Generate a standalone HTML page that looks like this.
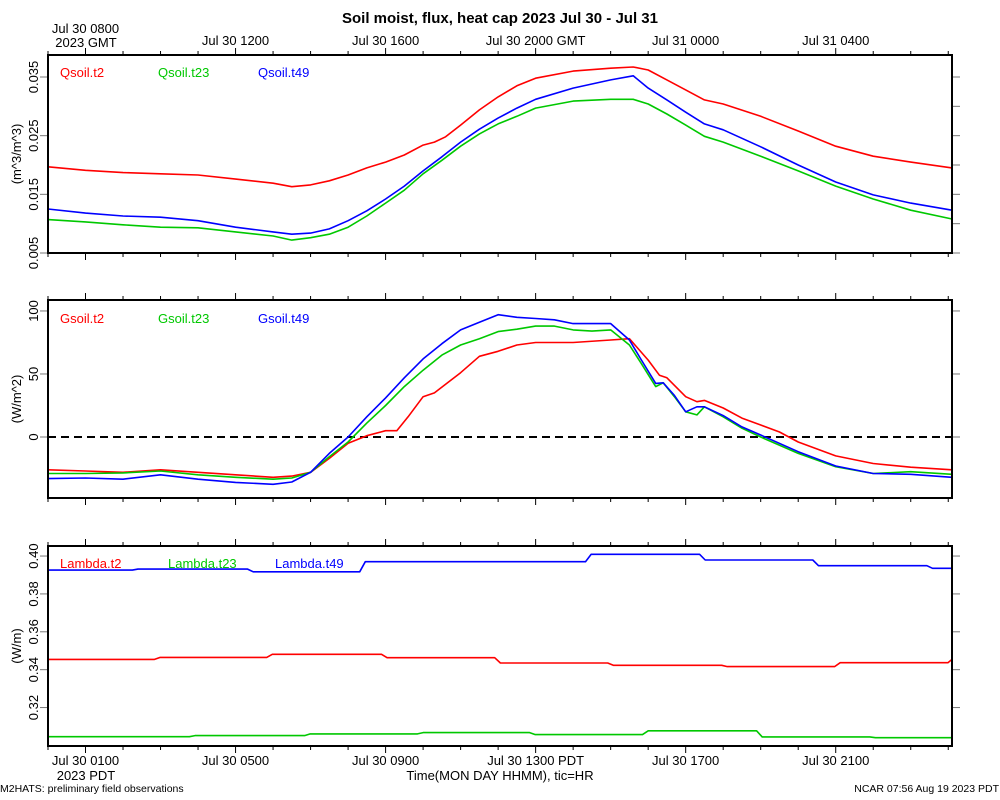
<!DOCTYPE html>
<html><head><meta charset="utf-8">
<style>
html,body{margin:0;padding:0;background:#fff;}
svg{display:block;font-family:"Liberation Sans",sans-serif;}
</style></head>
<body>
<svg id="chart" width="1000" height="800" viewBox="0 0 1000 800" xmlns="http://www.w3.org/2000/svg">
<text x="500" y="23" text-anchor="middle" font-size="15" font-weight="bold">Soil moist, flux, heat cap 2023 Jul 30 - Jul 31</text>
<text x="0" y="792" font-size="10.5">M2HATS: preliminary field observations</text>
<text x="999" y="792" font-size="10.5" text-anchor="end">NCAR 07:56 Aug 19 2023 PDT</text>
<text x="500" y="780" font-size="13" text-anchor="middle">Time(MON DAY HHMM), tic=HR</text>
<text x="86" y="780" font-size="13" text-anchor="middle">2023 PDT</text>
<text x="86" y="47" font-size="13" text-anchor="middle">2023 GMT</text>
</svg>
<script>
// time in hours since Jul 30 0000 PDT
const qTimes=[0,1,2,3,4,5,6,6.5,7,7.5,8,8.5,9,9.5,10,10.3,10.6,11,11.5,12,12.5,13,14,15,15.6,16,16.5,17,17.5,18,19,20,21,22,23,24.1];
const qRed=[0.0197,0.0191,0.0187,0.0185,0.0183,0.0176,0.0169,0.0163,0.0166,0.0173,0.0183,0.0195,0.0205,0.0217,0.0234,0.0239,0.0248,0.0268,0.0294,0.0316,0.0335,0.0348,0.0360,0.0365,0.0367,0.0362,0.0345,0.0328,0.0311,0.0304,0.0283,0.0258,0.0232,0.0215,0.0205,0.0195];
const qTimesB=[0,1,2,3,4,5,6,6.5,7,7.5,8,8.5,9,9.5,10,10.5,11,11.5,12,12.5,13,14,15,15.6,16,16.5,17,17.5,18,19,20,21,22,23,24.1];
const qGreen=[0.0107,0.0103,0.0098,0.0094,0.0093,0.0086,0.0079,0.0072,0.0076,0.0082,0.0094,0.0113,0.0135,0.0157,0.0185,0.0208,0.0232,0.0253,0.0270,0.0283,0.0297,0.0309,0.0312,0.0312,0.0304,0.0287,0.0268,0.0249,0.0239,0.0215,0.0190,0.0164,0.0142,0.0123,0.0108];
const qBlue=[0.0125,0.0118,0.0113,0.0111,0.0105,0.0094,0.0086,0.0082,0.0084,0.0091,0.0105,0.0122,0.0142,0.0164,0.0190,0.0214,0.0239,0.0261,0.0280,0.0297,0.0312,0.0331,0.0345,0.0352,0.0331,0.0311,0.0290,0.0270,0.0260,0.0231,0.0200,0.0171,0.0149,0.0135,0.0123];

const gRedT=[0,1,2,3,4,5,6,6.5,7,7.5,8,8.5,9,9.3,9.6,10,10.3,11,11.5,12,12.5,13,14,15,15.5,16,16.3,16.5,17,17.3,17.5,18,18.5,19,19.5,20,21,22,23,24.1];
const gRed=[-26,-27,-28,-26,-28,-30,-32,-31,-28,-17,-5,1,5,5,16,32,35,51,64,68,73,75,75,77,78,61,49,47,32,28,29,23,15,9.5,4,-4,-15,-21,-24,-26];
const gT=[0,1,2,3,4,5,6,6.5,7,7.5,8,8.5,9,9.5,10,10.5,11,11.5,12,12.5,13,13.5,14,14.5,15,15.5,15.8,16.2,16.4,16.7,17,17.3,17.5,18,18.5,19,20,21,22,23,24.1];
const gGreen=[-29,-29,-28.5,-27,-30,-32,-33.5,-32.5,-28,-15.6,-4,11,25,40,53,65,73,78,83.6,85.5,88,88,85,84,85,73,59,40,43,32,20,17.5,24,16,7,0,-13,-23.6,-29,-27.5,-29.6];
const gBlue=[-33,-32.5,-33.5,-30,-33.5,-36,-37.5,-35.7,-28,-13,0,16,31,47,62,74,85,91,97,95,94,93,90,90,90,77,62,42.5,43,33,20,24,24,17,8,1.6,-11.7,-23,-29,-29.6,-32];

const lBlueChg=[2.25,5.32,8.31,14.33,17.37,20.39,23.43];
const lBlue=[0.3926,0.3931,0.3917,0.3970,0.4009,0.3979,0.3949,0.3935];
const lRedChg=[2.84,5.83,8.89,11.91,14.92,17.96,20.97,23.99];
const lRed=[0.3454,0.3465,0.3481,0.3463,0.3435,0.3423,0.3416,0.3437,0.3454];
const lGreenChg=[3.77,6.84,9.85,12.84,15.85,18.89,21.91];
const lGreen=[0.3046,0.3052,0.3061,0.3068,0.3057,0.3077,0.3045,0.3041];

const qTicks=[0.005,0.015,0.025,0.035];
const gTicks=[0,50,100];
const lTicks=[0.32,0.34,0.36,0.38,0.40];
const gmtLabels=["Jul 30 0800","Jul 30 1200","Jul 30 1600","Jul 30 2000 GMT","Jul 31 0000","Jul 31 0400"];
const pdtLabels=["Jul 30 0100","Jul 30 0500","Jul 30 0900","Jul 30 1300 PDT","Jul 30 1700","Jul 30 2100"];
const labelHours=[1,5,9,13,17,21];

const NS="http://www.w3.org/2000/svg";
const svg=document.getElementById('chart');
const X0=48,X1=952,T0=0,T1=24.1;
const xS=t=>X0+(t-T0)/(T1-T0)*(X1-X0);
const RED="#ff0000",GREEN="#00c800",BLUE="#0000ff";
function el(tag,attrs,parent){const e=document.createElementNS(NS,tag);for(const k in attrs)e.setAttribute(k,attrs[k]);(parent||svg).appendChild(e);return e;}

const panels=[
 {top:55,bot:253,vmin:0.005,vmax:0.03875,name:'moisture'},
 {top:300,bot:498,vmin:-48.4,vmax:108.7,name:'flux'},
 {top:546,bot:746,vmin:0.2997,vmax:0.4053,name:'lambda'}];
function yS(p,v){return p.bot-(v-p.vmin)/(p.vmax-p.vmin)*(p.bot-p.top);}

function line(p,ts,vs,color,name){
  const pts=ts.map((t,i)=>xS(t).toFixed(1)+','+yS(p,vs[i]).toFixed(1)).join(' ');
  const e=el('polyline',{points:pts,fill:'none',stroke:color,'stroke-width':1.6,'stroke-linejoin':'round'});
  
  
}
function stepLine(p,chg,lv,color,name){
  const r=0.15;const ts=[T0],vs=[lv[0]];
  chg.forEach((c,i)=>{ts.push(c);vs.push(lv[i]);ts.push(Math.min(c+r,T1));vs.push(lv[i+1]);});
  ts.push(T1);vs.push(lv[lv.length-1]);
  line(p,ts,vs,color,name);
}

panels.forEach((p,pi)=>{
  const g=el('g',{});
  
  
  for(let h=0;h<=24;h++){
    const x=xS(h);const major=labelHours.includes(h);
    const tt=el('line',{x1:x,x2:x,y1:p.top,y2:p.top-(major?7:4),stroke:'#000','stroke-width':1},g);
    
    
    const tb=el('line',{x1:x,x2:x,y1:p.bot,y2:p.bot+(major?7:4),stroke:'#000','stroke-width':1},g);
    
    
  }
  const ticks=pi===0?qTicks:pi===1?gTicks:lTicks;
  const allTicks=pi===0?[0.005,0.010,0.015,0.020,0.025,0.030,0.035]:pi===1?[-50,0,50,100]:lTicks;
  allTicks.forEach(v=>{
    const y=yS(p,v);if(y<p.top-1||y>p.bot+1)return;
    const rt=el('line',{x1:X1,x2:X1+8,y1:y,y2:y,stroke:'#777','stroke-width':1},g);
    
    
  });
  ticks.forEach(v=>{
    const y=yS(p,v);
    const lt=el('line',{x1:X0-8,x2:X0,y1:y,y2:y,stroke:'#777','stroke-width':1},g);
    
    
    const lab=el('text',{x:0,y:0,'font-size':13,'text-anchor':'middle',transform:`translate(38,${y}) rotate(-90)`},g);
    lab.textContent=pi===1?String(v):(pi===0?v.toFixed(3):v.toFixed(2));
    
    
  });
  const titles=['(m^3/m^3)','(W/m^2)','(W/m)'];
  const yt=el('text',{x:0,y:0,'font-size':13,'text-anchor':'middle',transform:`translate(21,${(p.top+p.bot)/2}) rotate(-90)`},g);
  yt.textContent=titles[pi];
  
  
  if(pi===1){
    const z=el('line',{x1:X0,x2:X1,y1:yS(p,0),y2:yS(p,0),stroke:'#000','stroke-width':2,'stroke-dasharray':'8,5'},g);
    
    
  }
});

const P0=panels[0],P1=panels[1],P2=panels[2];
line(P0,qTimes,qRed,RED,'qsoil-t2-line');
line(P0,qTimesB,qGreen,GREEN,'qsoil-t23-line');
line(P0,qTimesB,qBlue,BLUE,'qsoil-t49-line');
line(P1,gRedT,gRed,RED,'gsoil-t2-line');
line(P1,gT,gGreen,GREEN,'gsoil-t23-line');
line(P1,gT,gBlue,BLUE,'gsoil-t49-line');
stepLine(P2,lBlueChg,lBlue,BLUE,'lambda-t49-line');
stepLine(P2,lRedChg,lRed,RED,'lambda-t2-line');
stepLine(P2,lGreenChg,lGreen,GREEN,'lambda-t23-line');

panels.forEach(p=>{
  const f=el('rect',{x:X0,y:p.top,width:X1-X0,height:p.bot-p.top,fill:'none',stroke:'#000','stroke-width':2});
  
  
});

const legends=[
 [P0,[['Qsoil.t2',60,RED],['Qsoil.t23',158,GREEN],['Qsoil.t49',258,BLUE]],77],
 [P1,[['Gsoil.t2',60,RED],['Gsoil.t23',158,GREEN],['Gsoil.t49',258,BLUE]],323],
 [P2,[['Lambda.t2',60,RED],['Lambda.t23',168,GREEN],['Lambda.t49',275,BLUE]],568]];
legends.forEach(L=>{
  L[1].forEach(it=>{
    const t=el('text',{x:it[1],y:L[2],'font-size':13,fill:it[2]});
    t.textContent=it[0];
    
    
  });
});

labelHours.forEach((h,i)=>{
  const x=xS(h);
  const gt=el('text',{x:x,y:i===0?33:45,'font-size':13,'text-anchor':'middle'});
  gt.textContent=gmtLabels[i];
  
  
  const pt=el('text',{x:x,y:765,'font-size':13,'text-anchor':'middle'});
  pt.textContent=pdtLabels[i];
  
  
});
</script>
</body></html>
